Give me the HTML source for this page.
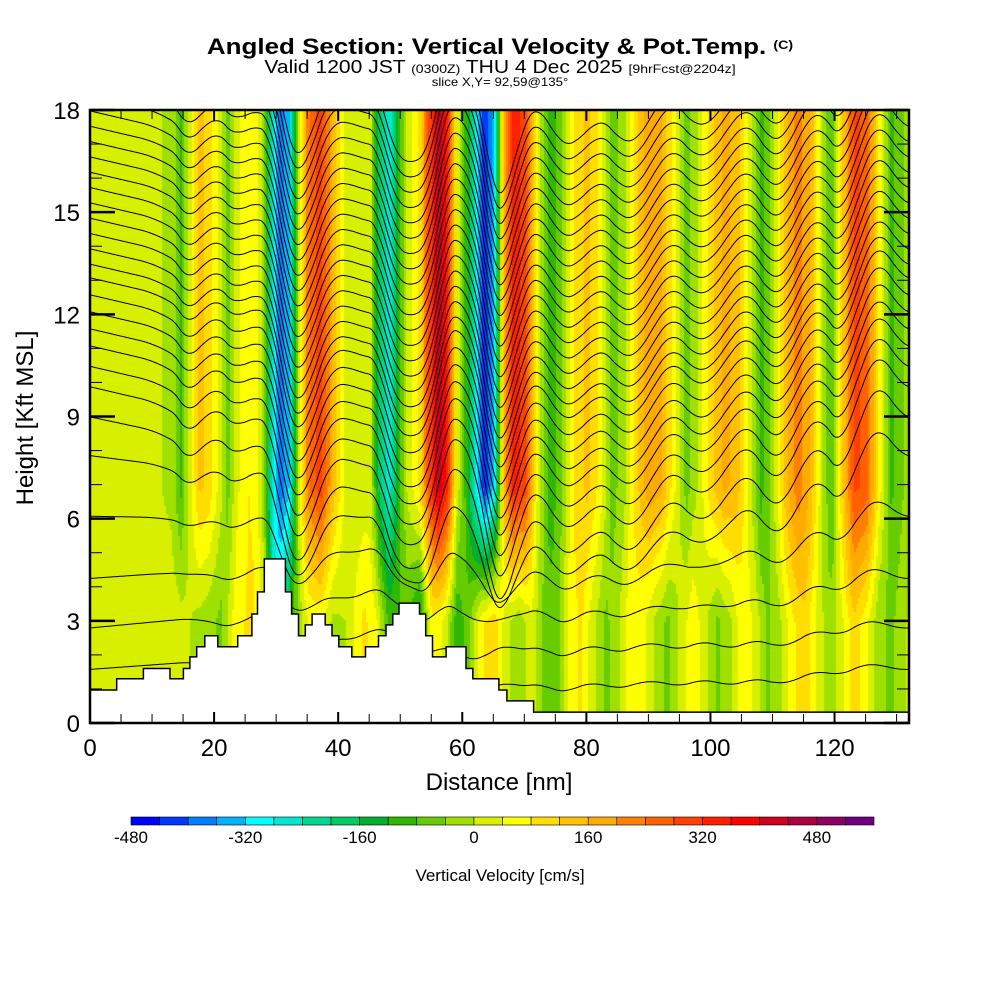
<!DOCTYPE html>
<html><head><meta charset="utf-8">
<style>
body{margin:0;background:#fff;width:1000px;height:1000px;position:relative;overflow:hidden;font-family:"Liberation Sans",sans-serif;}
.t{position:absolute;white-space:nowrap;color:#000;}
</style></head><body>
<div class="t" style="left:0;width:1000px;text-align:center;top:34px;font-size:22px;font-weight:bold;transform:scaleX(1.18);transform-origin:500px 0;">Angled Section: Vertical Velocity &amp; Pot.Temp. <span style="font-size:12px;vertical-align:5px">(C)</span></div>
<div class="t" style="left:0;width:1000px;text-align:center;top:58px;font-size:18px;line-height:18px;transform:scaleX(1.17);transform-origin:500px 0;">Valid 1200 JST <span style="font-size:12px">(0300Z)</span> THU 4 Dec 2025 <span style="font-size:12px">[9hrFcst@2204z]</span></div>
<div class="t" style="left:0;width:1000px;text-align:center;top:76px;font-size:12px;line-height:12px;transform:scaleX(1.1);transform-origin:500px 0;">slice X,Y= 92,59@135°</div>
<canvas id="field" width="819" height="613" style="position:absolute;left:90px;top:110px;"></canvas>
<svg id="ov" width="1000" height="1000" style="position:absolute;left:0;top:0;">
<defs><clipPath id="pc"><rect x="90" y="110" width="819" height="613"/></clipPath></defs>
<g id="contours" clip-path="url(#pc)"></g>
<path id="terrain" fill="#fff" stroke="#000" stroke-width="1.5"/>
<g id="ticks"></g>
<rect x="90" y="110" width="819" height="613" fill="none" stroke="#000" stroke-width="2.5"/>
<g id="cbar"></g>
<text x="33" y="418" transform="rotate(-90 33 418)" text-anchor="middle" font-family="Liberation Sans" font-size="24">Height [Kft MSL]</text>
<text x="499" y="790" text-anchor="middle" font-family="Liberation Sans" font-size="24">Distance [nm]</text>
<text x="500" y="881" text-anchor="middle" font-family="Liberation Sans" font-size="17">Vertical Velocity [cm/s]</text>
</svg>
<script>
// ---- data ----
const upperDist=[0,8,13,14.5,16,17.5,19,21,22,23.5,25.5,27.5,29,30.5,32,33.5,35,37,39,41,43,45,46.5,48,49.5,51,53,54.5,56,57.5,59,60.5,62,63.5,65,66.5,68,70,72,74,76,78,80,82,84,86,88,90,92,94,96,98,100,102,104,106,108,110,112,114,116,118,119.5,121,123,125,127,129,131,132];
const upperW=[20,20,-10,-90,30,130,110,10,-60,30,80,20,-220,-400,-320,20,230,310,150,30,10,20,-180,-280,-120,10,90,290,440,330,30,-100,-280,-440,-320,130,350,300,30,-110,-40,90,130,70,-60,-10,110,190,170,50,-60,10,110,170,150,30,-100,-10,150,230,150,-10,-90,110,290,270,70,-90,-40,10];
const lowerDist=[0,14,17,21,23,26,28,29.5,31,33,35,37,39,41,44,46,48,51,53,55,57,59,61,63,65,67,69,71,73,75,77,79,81,83,85,87,89,91,93,95,97,99,101,103,105,107,109,111,113,115,117,119,121,123,125,127,129,132];
const lowerW=[20,20,-10,-50,50,100,10,-260,-200,-50,40,50,-10,0,90,50,-90,-70,-150,70,30,-110,-50,70,110,10,-30,30,-50,-70,50,90,10,-50,-10,70,50,-10,-50,10,70,10,-50,-10,70,30,-50,-10,70,110,30,-30,30,110,50,-30,-50,10];
const terrainEdges=[0,4.3,8.6,12.9,15.05,16.1,17.2,18.5,20.6,23.8,26.1,27.0,28.1,31.5,32.5,33.6,34.7,35.8,37.9,39.0,40.1,42.2,44.4,46.5,47.7,48.8,49.8,53.1,54.1,55.2,57.4,60.6,61.7,65.9,67.2,71.5,132];
const terrainH=[0.97,1.3,1.6,1.3,1.6,1.94,2.24,2.56,2.24,2.56,3.2,3.85,4.82,3.85,3.2,2.56,2.88,3.2,2.88,2.56,2.24,1.94,2.24,2.56,2.88,3.2,3.52,3.2,2.56,1.94,2.24,1.6,1.3,0.97,0.65,0.32];
const thetaLevels=[0,1,2,3,4,5,6,7,8,9,10,11,12,13,14,15,16,17,18,19,20,21,22,23,24,25,26,27,28,29,30];
const thetaBaseH=[1.35,2.5,3.7,5.0,6.0,6.8,7.6,8.2,8.8,9.3,9.8,10.3,10.8,11.2,11.65,12.1,12.55,13.0,13.45,13.9,14.35,14.8,15.25,15.7,16.15,16.6,17.05,17.5,17.95,18.4,18.85];
const cbarTicks=[-480,-320,-160,0,160,320,480];
const palette=["#0000ff","#0038ff","#0080ff","#00b4ff","#00ffff","#00e8d0","#00d890","#00cc66","#00b030","#30b800","#66cc00","#a0e000","#d8f000","#ffff00","#ffdd00","#ffc000","#ffaa00","#ff8000","#ff6000","#ff4000","#ff2000","#ff0000","#d00020","#b00040","#900060","#700080"];
// ---- axes ----
const X0=90,X1=909,Y0=723,Y1=110,XMAX=132,HMAX=18;
const X=d=>X0+d*(X1-X0)/XMAX, Y=h=>Y0-h*(Y0-Y1)/HMAX;
const interp=(xs,ys,x)=>{if(x<=xs[0])return ys[0];for(let i=1;i<xs.length;i++){if(x<=xs[i]){const t=(x-xs[i-1])/(xs[i]-xs[i-1]);return ys[i-1]+t*(ys[i]-ys[i-1]);}}return ys[ys.length-1];};
const clamp=(v,a,b)=>Math.max(a,Math.min(b,v));
const f=h=>clamp((h-3)/4,0,1);
const colorOf=w=>palette[clamp(Math.floor((w+480)/40),0,25)];
// field
const ctx=document.getElementById('field').getContext('2d');
for(let px=0;px<819;px+=2){const x=px*XMAX/819;const wu=interp(upperDist,upperW,x),wl=interp(lowerDist,lowerW,x);
 for(let py=0;py<613;py+=2){const h=(613-py)*HMAX/613;const ff=f(h);ctx.fillStyle=colorOf(wu*ff+wl*(1-ff));ctx.fillRect(px,py,2,2);}}
// displacement integrals
const N=820,Iu=[],Il=[];let su=0,sl=0;
for(let i=0;i<N;i++){const x=i*XMAX/(N-1);if(i>0){const dx=XMAX/(N-1);su+=interp(upperDist,upperW,x)*dx;sl+=interp(lowerDist,lowerW,x)*dx;}Iu.push(su);Il.push(sl);}
const detr=a=>{const n=a.length,e=a[n-1];return a.map((v,i)=>v-e*i/(n-1));};
const Du=detr(Iu),Dl=detr(Il);const mu=Du.reduce((a,b)=>a+b)/N,ml=Dl.reduce((a,b)=>a+b)/N;
const K=0.0021;
const svgNS='http://www.w3.org/2000/svg';
const cg=document.getElementById('contours');
thetaLevels.forEach((th,j)=>{const h0=thetaBaseH[j];const ff=f(h0);const amp=h0<6?0.25+0.1*h0:1;let d='';
 for(let i=0;i<N;i++){const x=i*XMAX/(N-1);const eta=K*amp*(ff*(Du[i]-mu)+(1-ff)*(Dl[i]-ml));d+=(i?'L':'M')+X(x).toFixed(1)+','+Y(h0+eta).toFixed(1);}
 const p=document.createElementNS(svgNS,'path');p.setAttribute('d',d);p.setAttribute('fill','none');p.setAttribute('stroke','#000');p.setAttribute('stroke-width','1');
 
 
 cg.appendChild(p);});
// terrain
let td='M'+X(0)+','+Y(0);
terrainH.forEach((h,i)=>{td+='L'+X(terrainEdges[i]).toFixed(1)+','+Y(h).toFixed(1)+'L'+X(terrainEdges[i+1]).toFixed(1)+','+Y(h).toFixed(1);});
td+='L'+X(XMAX)+','+Y(0)+'Z';document.getElementById('terrain').setAttribute('d',td);
// ticks
const tg=document.getElementById('ticks');
function line(x1,y1,x2,y2,w,name){const l=document.createElementNS(svgNS,'line');l.setAttribute('x1',x1);l.setAttribute('y1',y1);l.setAttribute('x2',x2);l.setAttribute('y2',y2);l.setAttribute('stroke','#000');l.setAttribute('stroke-width',w);
 
 
 tg.appendChild(l);}
function txt(x,y,s,size,anchor,name,g){const t=document.createElementNS(svgNS,'text');t.setAttribute('x',x);t.setAttribute('y',y);t.setAttribute('font-size',size);t.setAttribute('font-family','Liberation Sans');t.setAttribute('text-anchor',anchor);t.textContent=s;
 
 
 (g||tg).appendChild(t);}
for(let d=0;d<=130;d+=5){const maj=d%20==0;line(X(d),Y0,X(d),Y0-(maj?11:9),maj?2:1,'x-tick');line(X(d),Y1,X(d),Y1+(maj?11:9),maj?2:1,'x-tick-top');}
for(let d=0;d<=120;d+=20)txt(X(d),756,String(d),24,'middle','x-tick-label');
for(let h=0;h<=18;h++){const maj=h%3==0;line(X0,Y(h),X0+(maj?25:12),Y(h),maj?2.5:1,'y-tick');line(X1,Y(h),X1-(maj?25:12),Y(h),maj?2.5:1,'y-tick-right');}
for(let h=0;h<=18;h+=3)txt(80,Y(h)+9,String(h),24,'end','y-tick-label');
// colorbar
const cb=document.getElementById('cbar');const bw=(874-131)/26;
palette.forEach((c,i)=>{const r=document.createElementNS(svgNS,'rect');r.setAttribute('x',131+i*bw);r.setAttribute('y',817);r.setAttribute('width',bw);r.setAttribute('height',8);r.setAttribute('fill',c);r.setAttribute('stroke','#000');r.setAttribute('stroke-width','0.6');
 
 
 cb.appendChild(r);});
cbarTicks.forEach(v=>txt(131+(v+480)/40*bw,843,String(v),17,'middle','colorbar-label',cb));
</script>
</body></html>
